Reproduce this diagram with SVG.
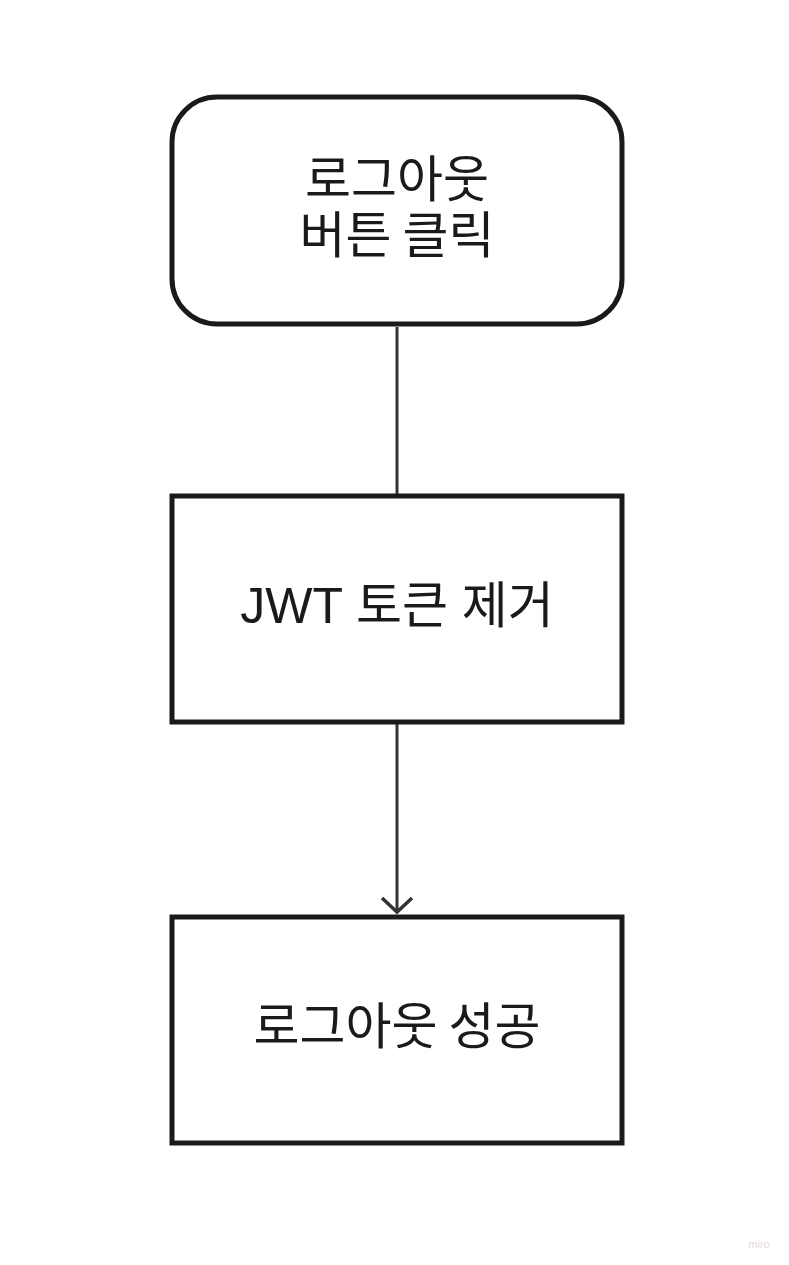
<svg xmlns="http://www.w3.org/2000/svg" width="789" height="1265" viewBox="0 0 789 1265">
<style>
.box{fill:#fff;stroke:#1a1a1a;stroke-width:5}
.lbl{font-family:"Noto Sans CJK KR","Liberation Sans",sans-serif;font-size:50px;fill:#1a1a1a;text-anchor:middle}
.lbl2{font-family:"Liberation Sans","Noto Sans CJK KR",sans-serif;font-size:50px;fill:#1a1a1a;text-anchor:middle}
.conn{stroke:#333;stroke-width:3;fill:none}
</style>
<defs>
<marker id="arr" markerWidth="34" markerHeight="34" refX="16" refY="17" orient="auto" markerUnits="userSpaceOnUse">
<path d="M2,2 L16,17 L2,32" fill="none" stroke="#333" stroke-width="3.5"/>
</marker>
</defs>
<rect width="789" height="1265" fill="#fff"/>
<g id="connectors">
<line class="conn" x1="397" y1="327" x2="397" y2="495"/>
<line class="conn" x1="397" y1="724" x2="397" y2="912" marker-end="url(#arr)"/>
</g>
<g id="n1">
<rect class="box" x="172" y="97" width="450" height="227" rx="45"/>
<text class="lbl" x="397" y="197">로그아웃<tspan x="397" dy="56">버튼 클릭</tspan></text>
</g>
<g id="n2">
<rect class="box" x="172" y="496" width="450" height="226"/>
<text class="lbl2" x="397" y="623">JWT 토큰 제거</text>
</g>
<g id="n3">
<rect class="box" x="172" y="917" width="450" height="226"/>
<text class="lbl" x="397" y="1044">로그아웃 성공</text>
</g>
<text x="759" y="1248" font-family="Liberation Sans,sans-serif" font-size="11" fill="#ddd" text-anchor="middle">miro</text>
</svg>
